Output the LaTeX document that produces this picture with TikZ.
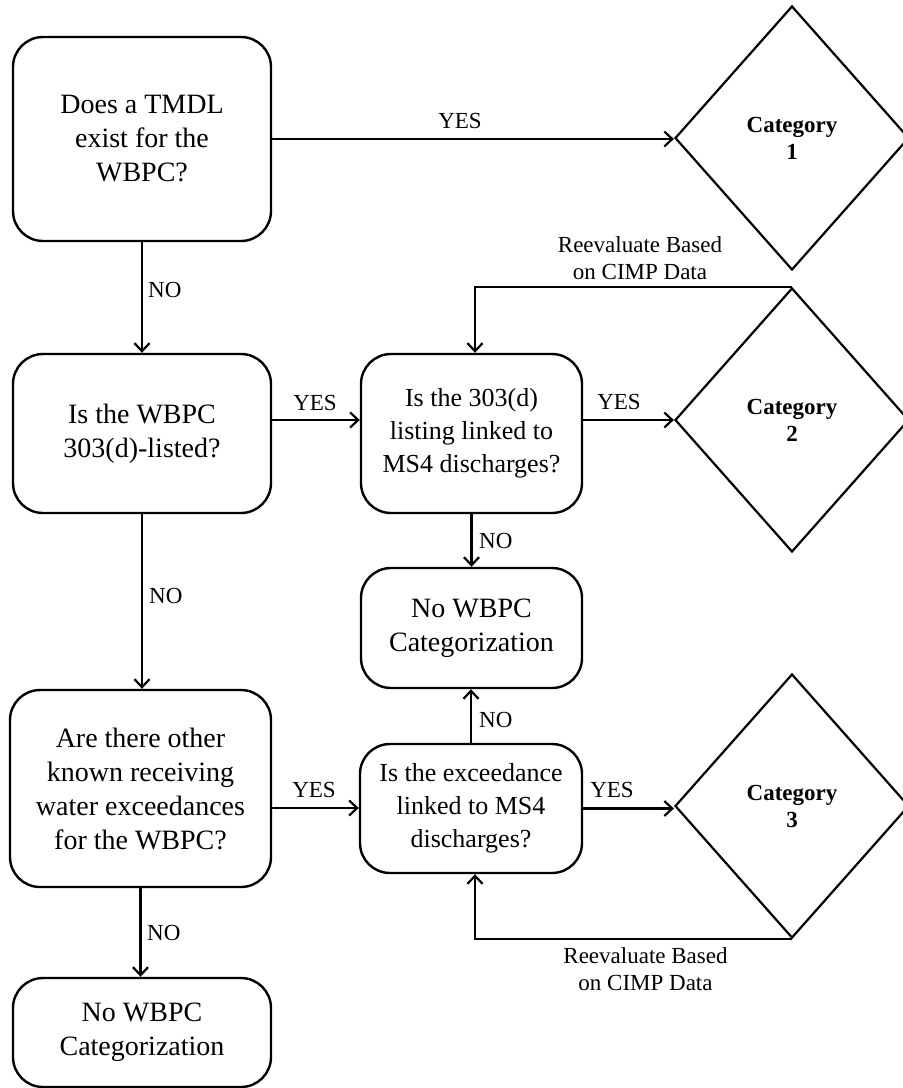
\documentclass[tikz,border=0pt]{standalone}
\usepackage{fontspec}
\setmainfont{Liberation Serif}
\usetikzlibrary{shapes.geometric,arrows.meta}
\begin{document}
\begin{tikzpicture}[x=1pt,y=-1pt,
  box/.style={draw,line width=2.4pt,rounded corners=30pt,align=center,inner sep=0pt},
  qtext/.style={font=\fontsize{28}{34}\selectfont},
  stext/.style={font=\fontsize{26}{33}\selectfont},
  cat/.style={draw,diamond,line width=2.2pt,minimum width=234pt,minimum height=264pt,inner sep=0pt,align=center,font=\bfseries\fontsize{23}{27}\selectfont},
  arr/.style={line width=2.2pt,-{Straight Barb[length=8pt,width=15pt,line width=2.2pt]}},
  lbl/.style={font=\fontsize{23}{27}\selectfont,inner sep=0pt},
]
\useasboundingbox (0,0) rectangle (903,1088);

% boxes
\node[box,qtext,minimum width=258pt,minimum height=204pt] (A) at (142,139) {Does a TMDL\\exist for the\\WBPC?};
\node[box,qtext,minimum width=258pt,minimum height=159pt] (B) at (142,433.5) {Is the WBPC\\303(d)-listed?};
\node[box,stext,minimum width=221pt,minimum height=159pt] (C) at (471.5,433.5) {Is the 303(d)\\listing linked to\\MS4 discharges?};
\node[box,qtext,minimum width=221pt,minimum height=120pt] (D) at (471.5,628) {No WBPC\\Categorization};
\node[box,qtext,minimum width=261pt,minimum height=197pt] (E) at (140.5,788.5) {Are there other\\known receiving\\water exceedances\\for the WBPC?};
\node[box,stext,minimum width=222pt,minimum height=129pt] (F) at (471,808.5) {Is the exceedance\\linked to MS4\\discharges?};
\node[box,qtext,minimum width=258pt,minimum height=109pt] (G) at (142,1032.5) {No WBPC\\Categorization};

% diamonds
\node[cat] (D1) at (792,138) {Category\\1};
\node[cat] (D2) at (792,420) {Category\\2};
\node[cat] (D3) at (792,806) {Category\\3};

% connectors
\draw[arr] (A.east) -- (A.east -| D1.west);
\draw[arr] (A.south) -- (A.south |- B.north);
\draw[arr] ([yshift=13.5pt]B.east) -- ([yshift=13.5pt]C.west);
\draw[arr] ([yshift=13.5pt]C.east) -- (D2.west);
\draw[arr] (D2.north) -| ([xshift=3.5pt]C.north);
\draw[arr] (C.south) -- (C.south |- D.north);
\draw[arr] (B.south) -- (B.south |- E.north);
\draw[arr] ([yshift=-19.5pt]E.east) -- ([yshift=-19.5pt]E.east -| F.west);
\draw[arr] (F.north) -- (F.north |- D.south);
\draw[arr] (F.east) -- (F.east -| D3.west);
\draw[arr] (D3.south) -| ([xshift=4pt]F.south);
\draw[arr] (E.south) -- (E.south |- G.north);

% labels
\node[lbl,anchor=base] (y1) at (460,128) {YES};
\node[lbl,anchor=base west] (n1) at (148,297) {NO};
\node[lbl,anchor=base] (y2) at (315,410) {YES};
\node[lbl,anchor=base] (y3) at (619,409) {YES};
\node[lbl,anchor=base west] (n2) at (479,548) {NO};
\node[lbl,anchor=base west] (n3) at (149,603) {NO};
\node[lbl,anchor=base] (y4) at (314,797) {YES};
\node[lbl,anchor=base] (y5) at (612,797) {YES};
\node[lbl,anchor=base west] (n4) at (479,727) {NO};
\node[lbl,anchor=base west] (n5) at (147,940) {NO};
\node[lbl,align=center] (r1) at (640,258) {Reevaluate Based\\on CIMP Data};
\node[lbl,align=center] (r2) at (645.5,969) {Reevaluate Based\\on CIMP Data};
\end{tikzpicture}
\end{document}
